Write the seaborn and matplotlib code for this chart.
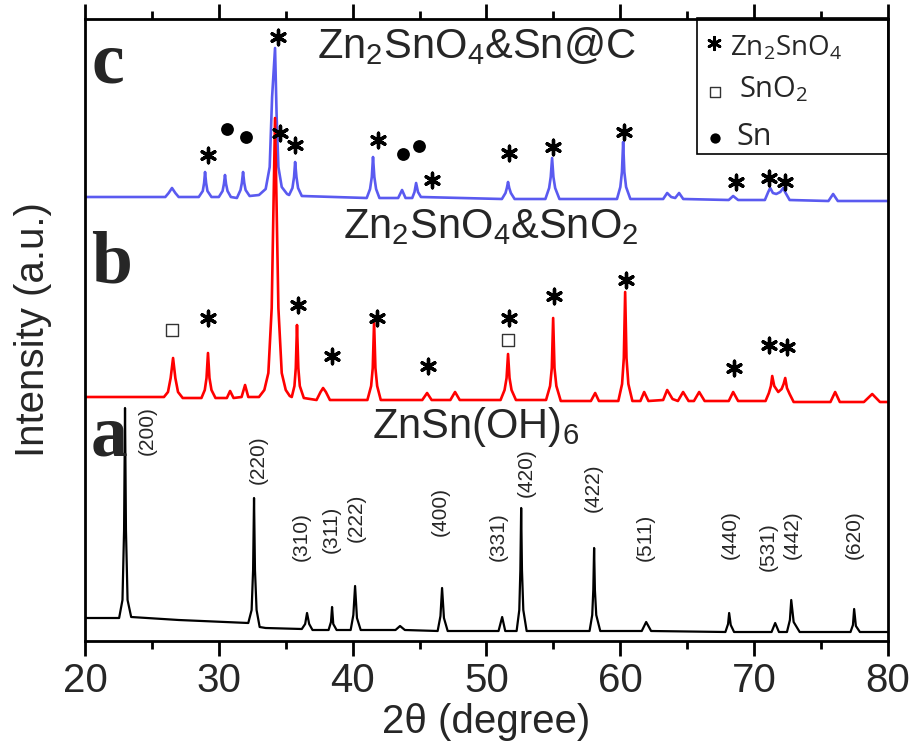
import matplotlib
matplotlib.use("Agg")
import matplotlib.pyplot as plt
import seaborn as sns
from matplotlib.patches import Rectangle
from matplotlib.ticker import MultipleLocator

# ---------------- data ----------------
# c: Zn2SnO4&Sn@C (intensity relative to its own baseline)
c_theta = [20.0, 26.0, 26.25, 26.5, 26.75, 27.0,
           28.5, 28.8, 28.9, 28.97, 29.05, 29.15, 29.45,
           30.0, 30.28, 30.38, 30.46, 30.54, 30.65, 30.9,
           31.35, 31.62, 31.72, 31.81, 31.9, 32.0, 32.3,
           33.0, 33.5, 33.8, 33.98, 34.2, 34.32, 34.45, 34.7, 35.1,
           35.25, 35.5, 35.62, 35.7, 35.8, 35.92, 36.2,
           41.05, 41.3, 41.43, 41.52, 41.62, 41.75, 42.0,
           43.4, 43.69, 43.95,
           44.45, 44.62, 44.74, 44.88, 45.1,
           51.15, 51.42, 51.52, 51.61, 51.7, 51.82, 52.1,
           54.4, 54.68, 54.8, 54.9, 55.0, 55.13, 55.45,
           59.75, 60.0, 60.12, 60.21, 60.3, 60.43, 60.75,
           63.2, 63.5, 63.8, 64.1, 64.39, 64.7,
           68.1, 68.43, 68.8,
           70.8, 71.05, 71.2, 71.4, 71.65, 71.95, 72.17, 72.35, 72.65,
           75.55, 75.9, 76.25, 80.0]
c_int = [0, 0, 4, 9, 4, 0,
         0, 6, 14, 25, 14, 6, 0,
         0, 6, 13, 22, 13, 6, 0,
         -1, 7, 14, 25, 14, 7, 1,
         2, 8, 30, 100, 149, 80, 30, 10, 3,
         2, 9, 20, 35, 20, 9, 1,
         -1, 8, 20, 40, 20, 8, -1,
         -1, 7, -1,
         -1, 5, 14, 5, 0,
         -2, 4, 9, 15, 9, 4, -2,
         -2, 9, 20, 39, 20, 9, -2,
         -2, 10, 25, 55, 25, 10, -2,
         -2, 4, 0, -1, 4, -2,
         -3, 1, -3,
         -3, 5, 9, 4, 3, 5, 9, 4, -3,
         -4, 3, -4, -4]

# b: Zn2SnO4&SnO2
b_theta = [20.0, 25.9, 26.2, 26.4, 26.58, 26.75, 26.95, 27.3,
           28.7, 28.95, 29.08, 29.19, 29.3, 29.45, 29.75,
           30.6, 30.84, 31.1, 31.7, 31.96, 32.2,
           33.0, 33.4, 33.7, 33.95, 34.2, 34.45, 34.7, 35.0, 35.3,
           35.45, 35.65, 35.75, 35.84, 35.94, 36.05, 36.35,
           37.3, 37.6, 37.79, 38.0, 38.3,
           41.1, 41.38, 41.5, 41.6, 41.7, 41.83, 42.1,
           45.2, 45.56, 45.9, 47.3, 47.65, 48.0,
           51.05, 51.35, 51.5, 51.61, 51.72, 51.87, 52.2,
           54.45, 54.75, 54.88, 54.98, 55.08, 55.22, 55.55,
           57.8, 58.12, 58.4,
           59.85, 60.13, 60.26, 60.36, 60.46, 60.6, 60.9,
           61.5, 61.78, 62.1, 63.2, 63.5, 63.9, 64.3, 64.69, 65.1, 65.5, 65.89, 66.3,
           68.1, 68.43, 68.8,
           70.85, 71.1, 71.25, 71.35, 71.5, 71.8, 72.05, 72.2, 72.32, 72.45, 72.65, 72.95,
           75.7, 76.05, 76.4,
           78.2, 78.82, 79.4, 80.0]
b_int = [1, 1, 6, 20, 40, 20, 6, 0,
         0, 8, 20, 45, 20, 8, 0,
         0, 7, 0, 1, 13, 1,
         1, 8, 25, 90, 280, 90, 25, 8, 2,
         1, 12, 30, 73, 30, 12, 0,
         -2, 6, 10, 6, -2,
         -2, 12, 30, 76, 30, 12, -2,
         -2, 5, -2, -2, 6, -2,
         -2, 8, 20, 44, 20, 8, -2,
         -2, 12, 30, 80, 30, 12, -3,
         -3, 5, -3,
         -3, 14, 40, 106, 40, 14, -3,
         -3, 6, -3, -2, 8, -1, -3, 6, -3, -3, 6, -3,
         -3, 6, -3,
         -3, 5, 12, 22, 12, 6, 9, 14, 20, 10, 4, -4,
         -4, 6, -4,
         -4, 4, -4, -4]

# a: ZnSn(OH)6
a_theta = [20.0, 22.55, 22.8, 22.92, 22.99, 23.06, 23.18, 23.45,
           27.0, 32.2, 32.45, 32.56, 32.63, 32.7, 32.82, 33.05, 33.5,
           36.2, 36.45, 36.59, 36.75, 37.0,
           38.2, 38.38, 38.46, 38.55, 38.8,
           39.85, 40.05, 40.18, 40.32, 40.6,
           43.2, 43.54, 43.9,
           46.35, 46.56, 46.68, 46.82, 47.1,
           50.9, 51.17, 51.4,
           52.25, 52.45, 52.53, 52.59, 52.65, 52.75, 53.0,
           57.7, 57.9, 57.98, 58.04, 58.1, 58.2, 58.5,
           61.6, 61.93, 62.3,
           67.85, 68.05, 68.13, 68.25, 68.5,
           71.3, 71.57, 71.85,
           72.45, 72.67, 72.77, 72.95, 73.4,
           77.2, 77.38, 77.47, 77.6, 77.9, 80.0]
a_int = [22, 22, 40, 110, 232, 110, 40, 23,
         20, 17, 30, 70, 142, 70, 30, 13, 12,
         11, 16, 27, 16, 10,
         10, 18, 33, 16, 10,
         10, 25, 54, 22, 10,
         10, 14, 10,
         9, 24, 52, 22, 9,
         9, 23, 9,
         9, 30, 70, 132, 70, 30, 9,
         9, 25, 50, 92, 50, 25, 9,
         9, 18, 9,
         8, 16, 27, 15, 8,
         8, 17, 8,
         8, 20, 40, 18, 8,
         8, 15, 31, 14, 8, 8]

# vertical offsets of the stacked patterns
offset_c = 443
offset_b = 242
offset_a = 0

# Miller indices of ZnSn(OH)6
hkl_labels = ["(200)", "(220)", "(310)", "(311)", "(222)", "(400)", "(331)",
              "(420)", "(422)", "(511)", "(440)", "(531)", "(442)", "(620)"]
hkl_x = [24.63, 32.93, 36.14, 38.39, 40.25, 46.53, 50.87,
         52.96, 57.97, 61.85, 68.21, 71.05, 72.84, 77.47]
hkl_y = [209, 180, 103, 111, 122, 128, 103, 167, 152, 103, 105, 93, 105, 105]

# phase markers: * Zn2SnO4, open square SnO2, filled dot Sn
star_x = [29.19, 34.42, 34.57, 35.69, 41.90, 45.93, 51.69, 54.98, 60.29, 68.65, 71.12, 72.32,
          29.19, 35.92, 38.46, 41.82, 45.63, 51.69, 55.05, 60.43, 68.50, 71.12, 72.47]
star_y = [485, 603, 507, 495, 500, 460, 487, 493, 508, 458, 462, 458,
          322, 335, 284, 322, 274, 322, 344, 360, 272, 295, 293]
square_x = [26.50, 51.61]
square_y = [310, 300]
dot_x = [30.61, 32.03, 43.77, 44.96]
dot_y = [511, 503, 486, 494]

# ---------------- style ----------------
sns.set_theme(style="white")
plt.rcParams["font.family"] = ["Liberation Sans", "DejaVu Sans"]
plt.rcParams["mathtext.fontset"] = "custom"
plt.rcParams["mathtext.rm"] = "Liberation Sans"
plt.rcParams["mathtext.default"] = "regular"

fig = plt.figure(figsize=(9.12, 7.49), dpi=100)
W, H = 912, 749
ax = fig.add_axes([85 / W, (H - 641) / H, (888 - 85) / W, (641 - 19) / H])

blue = "#5a5af0"
sns.lineplot(x=c_theta, y=[v + offset_c for v in c_int], ax=ax, color=blue,
             linewidth=1.9, sort=False, estimator=None)
sns.lineplot(x=b_theta, y=[v + offset_b for v in b_int], ax=ax, color="#ff0000",
             linewidth=1.9, sort=False, estimator=None)
sns.lineplot(x=a_theta, y=[v + offset_a for v in a_int], ax=ax, color="black",
             linewidth=1.6, sort=False, estimator=None)

# markers
ax.scatter(star_x, star_y, marker=(6, 2, 0), s=110, c="black", linewidths=2.4, zorder=5)
ax.scatter(square_x, square_y, marker="s", s=75, facecolors="white",
           edgecolors="#333333", linewidths=1.0, zorder=5)
ax.scatter(dot_x, dot_y, marker="o", s=85, c="black", linewidths=0, zorder=5)

for lab, x, y in zip(hkl_labels, hkl_x, hkl_y):
    ax.text(x, y, lab, rotation=90, ha="center", va="center", fontsize=15)

# titles
ax.text(37.34, 582, r"Zn$_2$SnO$_4$&Sn@C", fontsize=30, ha="left", va="baseline")
ax.text(39.28, 402, r"Zn$_2$SnO$_4$&SnO$_2$", fontsize=30, ha="left", va="baseline")
ax.text(41.45, 202, r"ZnSn(OH)$_6$", fontsize=30, ha="left", va="baseline")

# panel letters
for letter, yb in zip(["c", "b", "a"], [558, 358, 185]):
    ax.text(20.45, yb, letter, fontsize=53, fontweight="bold",
            family=["Liberation Serif"], ha="left", va="baseline")

# legend box (manual)
ax.add_patch(Rectangle((65.74, 486), 80 - 65.74, 622 - 486, fill=False,
                       edgecolor="black", linewidth=1.2, zorder=6, clip_on=False))
ax.scatter([66.98], [597], marker=(6, 2, 0), s=80, c="black", linewidths=2.0, zorder=7)
ax.scatter([67.05], [548], marker="s", s=45, facecolors="white",
           edgecolors="#333333", linewidths=1.0, zorder=7)
ax.scatter([67.05], [502], marker="o", s=55, c="black", linewidths=0, zorder=7)
ax.text(68.2, 585, r"Zn$_2$SnO$_4$", fontsize=20, family=["Open Sans"], va="baseline")
ax.text(68.9, 543, r"SnO$_2$", fontsize=21, family=["Open Sans"], va="baseline")
ax.text(68.7, 495, "Sn", fontsize=22, family=["Open Sans"], va="baseline")

# axes
ax.set_xlim(20, 80)
ax.set_ylim(-1, 621)
ax.xaxis.set_major_locator(MultipleLocator(10))
ax.xaxis.set_minor_locator(MultipleLocator(5))
ax.set_yticks([])
ax.tick_params(axis="x", which="major", direction="out", length=11, width=2,
               labelsize=29, pad=4, top=True, bottom=True, color="black")
ax.tick_params(axis="x", which="minor", direction="out", length=6, width=2,
               top=True, bottom=True, color="black")
for sp in ax.spines.values():
    sp.set_visible(True)
    sp.set_color("black")
    sp.set_linewidth(2)

ax.set_xlabel("2θ (degree)", fontsize=29, labelpad=2)
ax.set_ylabel("Intensity (a.u.)", fontsize=29, labelpad=24)
ax.grid(False)

fig.savefig("out.png", dpi=100)
